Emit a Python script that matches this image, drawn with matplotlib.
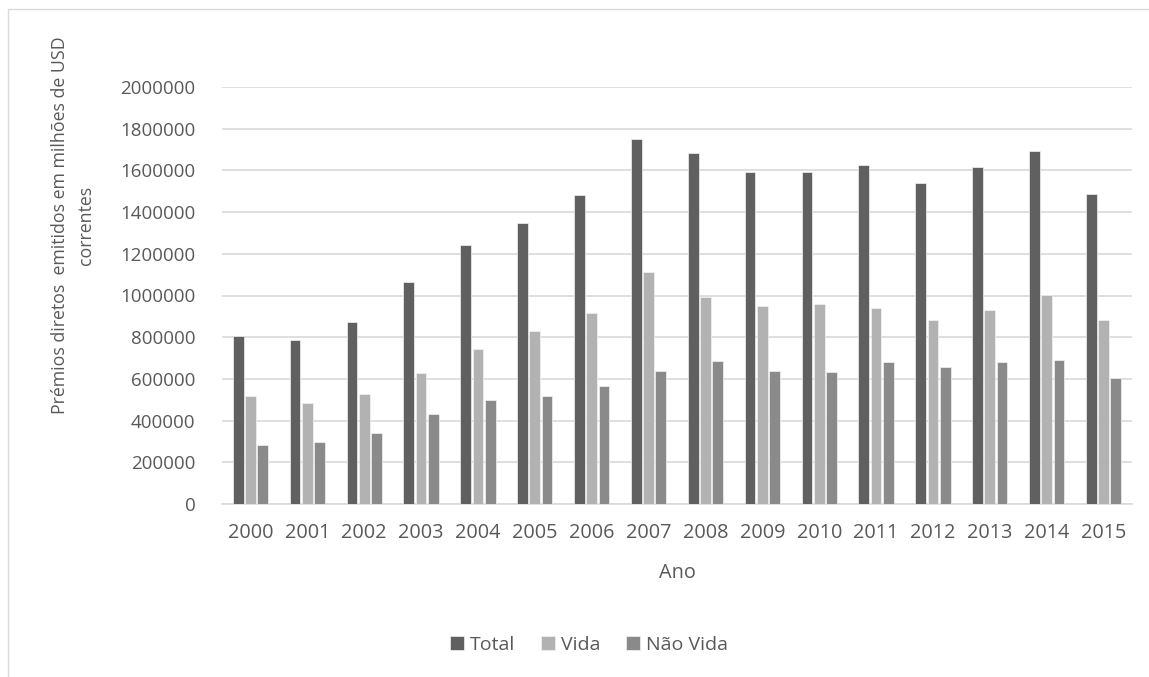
import numpy as np
import matplotlib.pyplot as plt
from matplotlib.patches import Rectangle
from matplotlib.ticker import FuncFormatter

# Prémios diretos emitidos (milhões de USD correntes)
anos = ['2000', '2001', '2002', '2003', '2004', '2005', '2006', '2007',
        '2008', '2009', '2010', '2011', '2012', '2013', '2014', '2015']
total = [804000, 786000, 873000, 1066000, 1240000, 1347000, 1482000, 1750000,
         1682000, 1590000, 1590000, 1626000, 1540000, 1617000, 1694000, 1489000]
vida = [519000, 486000, 529000, 630000, 742000, 830000, 915000, 1112000,
        991000, 952000, 957000, 941000, 881000, 932000, 1001000, 881000]
nao_vida = [283000, 298000, 342000, 434000, 498000, 516000, 564000, 636000,
            686000, 636000, 632000, 683000, 658000, 683000, 691000, 606000]

plt.rcParams['font.family'] = ['Open Sans', 'DejaVu Sans']
cor_texto = '#595959'

fig = plt.figure(figsize=(11.49, 6.77), dpi=100)
fig.patch.set_facecolor('white')

# moldura da área do gráfico
fig.patches.append(Rectangle((8 / 1149, -0.1), 1.2, 1 - 9 / 677 + 0.1,
                             transform=fig.transFigure, fill=False,
                             edgecolor='#d9d9d9', linewidth=1))

ax = fig.add_axes([222 / 1149, 1 - 504 / 677, 910 / 1149, 417 / 677])

x = np.arange(len(anos))
w = 0.19
ax.bar(x - 0.215, total, w, color='#606060', edgecolor='#f2f2f2', linewidth=0.5, label='Total', zorder=3)
ax.bar(x, vida, w, color='#b2b2b2', edgecolor='#f2f2f2', linewidth=0.5, label='Vida', zorder=3)
ax.bar(x + 0.215, nao_vida, w, color='#8a8a8a', edgecolor='#f2f2f2', linewidth=0.5, label='Não Vida', zorder=3)

ax.set_xlim(-0.5, len(anos) - 0.5)
ax.set_ylim(0, 2000000)
ax.set_yticks(np.arange(0, 2000001, 200000))
ax.yaxis.set_major_formatter(FuncFormatter(lambda v, p: '%d' % v))
ax.set_xticks(x)
ax.set_xticklabels(anos)
ax.grid(axis='y', color='#d9d9d9', linewidth=1.2, zorder=0)
for s in ['top', 'right', 'left']:
    ax.spines[s].set_visible(False)
ax.spines['bottom'].set_color('#d9d9d9')
ax.spines['bottom'].set_linewidth(1.2)
ax.tick_params(length=0, colors=cor_texto)
ax.tick_params(axis='y', labelsize=13.5, pad=19)
ax.tick_params(axis='x', labelsize=14.3, pad=14)

ax.set_xlabel('Ano', fontsize=14.3, color=cor_texto, labelpad=14)
fig.text(73 / 1149, 1 - 225 / 677,
         'Prémios diretos  emitidos em milhões de USD\ncorrentes',
         rotation=90, ha='center', va='center', multialignment='center',
         fontsize=12.8, color=cor_texto, linespacing=1.55)

fig.legend(loc='center', bbox_to_anchor=(589 / 1149, 1 - 645 / 677), ncol=3,
           frameon=False, fontsize=14, labelcolor=cor_texto,
           handlelength=0.75, handleheight=0.75, handletextpad=0.3, columnspacing=1.3)

fig.savefig('out.png', dpi=100)
